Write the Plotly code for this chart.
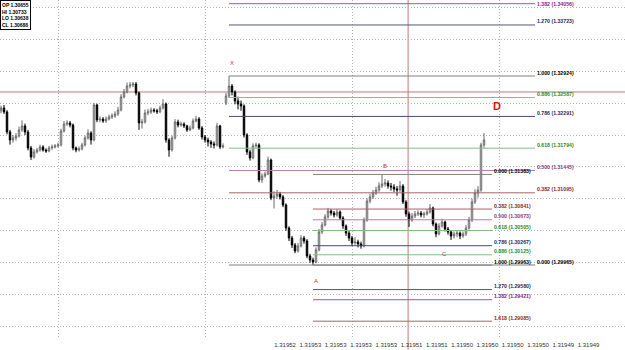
import plotly.graph_objects as go

# ---------------- data ----------------
opens = [1.32380,1.32424,1.32361,1.32048,1.31923,1.31954,1.31985,1.32079,1.32142,1.32048,
 1.31797,1.31656,1.31735,1.31766,1.31813,1.31766,1.31750,1.31797,1.31813,1.31829,
 1.31844,1.32063,1.32173,1.32189,1.32157,1.31797,1.31766,1.31782,1.31844,1.31954,
 1.32032,1.31923,1.32471,1.32236,1.32250,1.32220,1.32251,1.32283,1.32298,1.32330,
 1.32392,1.32596,1.32674,1.32768,1.32784,1.32799,1.32659,1.32189,1.32204,1.32345,
 1.32361,1.32392,1.32380,1.32365,1.32424,1.32486,1.31923,1.31766,1.31954,1.32204,
 1.32157,1.32173,1.32142,1.32079,1.32110,1.32220,1.32251,1.32110,1.31970,1.31923,
 1.31891,1.31860,1.31844,1.32142,1.31813,1.32500,1.32612,1.32768,1.32674,1.32533,
 1.32486,1.32455,1.32001,1.31735,1.31641,1.31829,1.31844,1.31296,1.31359,1.31390,
 1.31609,1.31014,1.31046,1.31077,1.31030,1.30905,1.30544,1.30388,1.30278,1.30184,
 1.30263,1.30388,1.30341,1.30106,1.30043,1.30012,1.30200,1.30482,1.30591,1.30717,
 1.30811,1.30779,1.30748,1.30795,1.30701,1.30576,1.30466,1.30388,1.30310,1.30325,
 1.30294,1.30263,1.30670,1.30967,1.31030,1.31093,1.31140,1.31202,1.31234,1.31249,
 1.31202,1.31187,1.31155,1.31140,1.31202,1.30952,1.30764,1.30670,1.30732,1.30764,
 1.30779,1.30748,1.30764,1.30795,1.30858,1.30607,1.30451,1.30576,1.30638,1.30529,
 1.30482,1.30419,1.30451,1.30466,1.30419,1.30451,1.30544,1.30670,1.30952,1.31093,
 1.31140,1.31844]

highs = [1.32460,1.32470,1.32390,1.32080,1.32000,1.32030,1.32130,1.32230,1.32180,1.32080,
 1.31830,1.31780,1.31800,1.31850,1.31840,1.31790,1.31830,1.31850,1.31860,1.31880,
 1.32100,1.32220,1.32230,1.32220,1.32180,1.31820,1.31820,1.31880,1.31990,1.32090,
 1.32060,1.32500,1.32490,1.32290,1.32280,1.32290,1.32320,1.32340,1.32370,1.32440,
 1.32640,1.32720,1.32820,1.32830,1.32830,1.32830,1.32680,1.32250,1.32400,1.32410,
 1.32430,1.32420,1.32410,1.32460,1.32560,1.32510,1.31950,1.31990,1.32250,1.32240,
 1.32210,1.32200,1.32160,1.32150,1.32260,1.32300,1.32280,1.32140,1.32000,1.31960,
 1.31920,1.31900,1.32190,1.32160,1.31870,1.32660,1.32924,1.32800,1.32700,1.32600,
 1.32540,1.32480,1.32030,1.31770,1.31870,1.31880,1.31870,1.31400,1.31430,1.31660,
 1.31630,1.31120,1.31140,1.31110,1.31060,1.30930,1.30570,1.30420,1.30310,1.30310,
 1.30430,1.30420,1.30370,1.30140,1.30080,1.30240,1.30530,1.30640,1.30760,1.30860,
 1.30840,1.30810,1.30840,1.30820,1.30730,1.30600,1.30500,1.30420,1.30400,1.30360,
 1.30330,1.30710,1.31010,1.31080,1.31140,1.31190,1.31260,1.31383,1.31310,1.31290,
 1.31250,1.31230,1.31200,1.31280,1.31230,1.30980,1.30800,1.30780,1.30810,1.30820,
 1.30810,1.30800,1.30840,1.30920,1.30880,1.30630,1.30620,1.30690,1.30660,1.30560,
 1.30510,1.30490,1.30500,1.30490,1.30490,1.30590,1.30720,1.31000,1.31150,1.31200,
 1.31880,1.32032]

lows = [1.32340,1.32330,1.32010,1.31850,1.31880,1.31910,1.31960,1.32050,1.32000,1.31760,
 1.31610,1.31630,1.31710,1.31740,1.31740,1.31720,1.31730,1.31770,1.31790,1.31800,
 1.31820,1.32040,1.32140,1.32120,1.31760,1.31730,1.31740,1.31760,1.31820,1.31930,
 1.31850,1.31900,1.32200,1.32200,1.32190,1.32190,1.32230,1.32250,1.32270,1.32300,
 1.32370,1.32570,1.32650,1.32730,1.32750,1.32620,1.32080,1.32100,1.32180,1.32310,
 1.32330,1.32350,1.32330,1.32340,1.32400,1.31880,1.31660,1.31740,1.31930,1.32120,
 1.32130,1.32110,1.32050,1.32060,1.32090,1.32200,1.32080,1.31930,1.31880,1.31820,
 1.31800,1.31790,1.31820,1.31780,1.31790,1.32470,1.32580,1.32620,1.32480,1.32400,
 1.32380,1.31960,1.31690,1.31600,1.31620,1.31800,1.31260,1.31250,1.31330,1.31370,
 1.30980,1.30850,1.31000,1.30990,1.30870,1.30500,1.30340,1.30230,1.30150,1.30160,
 1.30240,1.30300,1.30070,1.30000,1.29965,1.29990,1.30180,1.30450,1.30570,1.30690,
 1.30740,1.30710,1.30720,1.30670,1.30530,1.30420,1.30340,1.30260,1.30280,1.30240,
 1.30220,1.30240,1.30640,1.30930,1.31000,1.31060,1.31110,1.31170,1.31190,1.31160,
 1.31130,1.31110,1.31050,1.31110,1.30920,1.30720,1.30560,1.30640,1.30700,1.30730,
 1.30710,1.30700,1.30740,1.30770,1.30570,1.30400,1.30430,1.30550,1.30490,1.30440,
 1.30357,1.30380,1.30400,1.30370,1.30390,1.30420,1.30520,1.30640,1.30920,1.31020,
 1.31110,1.31800]

closes = [1.32424,1.32361,1.32048,1.31923,1.31954,1.31985,1.32079,1.32142,1.32048,1.31797,
 1.31656,1.31735,1.31766,1.31813,1.31766,1.31750,1.31797,1.31813,1.31829,1.31844,
 1.32063,1.32173,1.32189,1.32157,1.31797,1.31766,1.31782,1.31844,1.31954,1.32032,
 1.31923,1.32471,1.32236,1.32250,1.32220,1.32251,1.32283,1.32298,1.32330,1.32392,
 1.32596,1.32674,1.32768,1.32784,1.32799,1.32659,1.32189,1.32204,1.32345,1.32361,
 1.32392,1.32380,1.32365,1.32424,1.32486,1.31923,1.31766,1.31954,1.32204,1.32157,
 1.32173,1.32142,1.32079,1.32110,1.32220,1.32251,1.32110,1.31970,1.31923,1.31891,
 1.31860,1.31844,1.32142,1.31813,1.31829,1.32612,1.32768,1.32674,1.32533,1.32486,
 1.32455,1.32001,1.31735,1.31641,1.31829,1.31844,1.31296,1.31359,1.31390,1.31609,
 1.31014,1.31046,1.31077,1.31030,1.30905,1.30544,1.30388,1.30278,1.30184,1.30263,
 1.30388,1.30341,1.30106,1.30043,1.30012,1.30200,1.30482,1.30591,1.30717,1.30811,
 1.30779,1.30748,1.30795,1.30701,1.30576,1.30466,1.30388,1.30310,1.30325,1.30294,
 1.30263,1.30670,1.30967,1.31030,1.31093,1.31140,1.31202,1.31234,1.31249,1.31202,
 1.31187,1.31155,1.31140,1.31202,1.30952,1.30764,1.30670,1.30732,1.30764,1.30779,
 1.30748,1.30764,1.30795,1.30858,1.30607,1.30451,1.30576,1.30638,1.30529,1.30482,
 1.30419,1.30451,1.30466,1.30419,1.30451,1.30544,1.30670,1.30952,1.31093,1.31140,
 1.31844,1.31923]

bars = list(range(len(closes)))

# Fibonacci set 1 (X -> A)
xa_ratios = ["1.382", "1.270", "1.000", "0.886", "0.786", "0.618", "0.500", "0.382", "0.000"]
xa_prices = [1.34056, 1.33723, 1.32924, 1.32587, 1.32291, 1.31794, 1.31445, 1.31095, 1.29965]
# Fibonacci set 2 (B -> A)
ab_ratios = ["0.000", "0.382", "0.500", "0.618", "0.786", "0.886", "1.000", "1.270", "1.382", "1.618"]
ab_prices = [1.31383, 1.30841, 1.30673, 1.30505, 1.30267, 1.30125, 1.29963, 1.29580, 1.29421, 1.29085]

# swing point bars
x_bar, a_bar, b_bar, c_bar = 76, 104, 127, 150

x_tick_labels = ["1.31952", "1.31953", "1.31953", "1.31953", "1.31953", "1.31951", "1.31951",
                 "1.31950", "1.31950", "1.31950", "1.31950", "1.31949", "1.31949", "<b>1.31949</b>"]

hud_lines = ["OP 1.30655", "HI 1.30733", "LO 1.30638", "CL 1.30688"]

crosshair_price = 1.32674
crosshair_bar = 135.7

# ---------------- styling ----------------
line_col = {"1.382": "#9a5a9a", "1.270": "#55557a", "1.000": "#808080", "0.886": "#86bc86",
            "0.786": "#4a4a70", "0.618": "#86bc86", "0.500": "#b080b0", "0.382": "#a86464",
            "0.000": "#808080", "1.618": "#a86464"}
text_col = {"1.382": "#8b1a8b", "1.270": "#2a2a66", "1.000": "#000000", "0.886": "#2e8b2e",
            "0.786": "#2a2a66", "0.618": "#2e8b2e", "0.500": "#8b3a8b", "0.382": "#8b2b2b",
            "0.000": "#000000", "1.618": "#8b2b2b"}

FONT = "Liberation Sans"
GRID = "#b4b4b4"
Y_RANGE = [1.28822, 1.34114]
xa_start, xa_end = x_bar, 178.0
ab_start, ab_end = a_bar, 163.7

fig = go.Figure()

fig.add_trace(go.Candlestick(
    x=bars, open=opens, high=highs, low=lows, close=closes,
    increasing=dict(line=dict(color="#6a6a6a", width=1), fillcolor="#ffffff"),
    decreasing=dict(line=dict(color="#000000", width=1), fillcolor="#000000"),
    whiskerwidth=0, hoverinfo="skip", xaxis="x", yaxis="y"))

annotations = []
for ratios, prices, x0, x1 in [(xa_ratios, xa_prices, xa_start, xa_end),
                               (ab_ratios, ab_prices, ab_start, ab_end)]:
    for r, p in zip(ratios, prices):
        fig.add_trace(go.Scatter(x=[x0, x1], y=[p, p], mode="lines",
                                 line=dict(color=line_col[r], width=1),
                                 hoverinfo="skip", xaxis="x", yaxis="y"))
        # keep the label inside the picture when its level sits at the very top
        near_top = (Y_RANGE[1] - p) < 0.0012
        annotations.append(dict(x=x1, y=p, xref="x", yref="y", text="<b>%s (%.5f)</b>" % (r, p),
                                showarrow=False, xanchor="left", yanchor="middle", xshift=1,
                                yshift=0 if near_top else 3.5, borderpad=0,
                                font=dict(family=FONT, size=5.2, color=text_col[r])))

# invisible trace to carry the grid axis
fig.add_trace(go.Scatter(x=[0], y=[crosshair_price], mode="markers", marker=dict(opacity=0),
                         hoverinfo="skip", xaxis="x2", yaxis="y"))

# swing letters
red = "#cc3333"
letters = [
    dict(x=x_bar, y=highs[x_bar], text="X", xshift=3, yshift=13),
    dict(x=a_bar, y=lows[a_bar], text="A", xshift=3, yshift=-16),
    dict(x=b_bar, y=highs[b_bar], text="B", xshift=3, yshift=8),
    dict(x=c_bar, y=lows[c_bar], text="C", xshift=-7, yshift=-14),
]
for a in letters:
    a.update(xref="x", yref="y", showarrow=False, font=dict(family=FONT, size=6, color=red))
annotations += letters
annotations.append(dict(x=165.3, y=xa_prices[4], xref="x", yref="y", text="<b>D</b>", showarrow=False,
                        yshift=10, font=dict(family=FONT, size=11, color="#dd1111")))

annotations.append(dict(x=0, y=1, xref="paper", yref="paper", xanchor="left", yanchor="top",
                        text="<b>" + "<br>".join(hud_lines) + "</b>", showarrow=False, align="left",
                        bgcolor="#ffffff", bordercolor="#000000", borderwidth=1, borderpad=1,
                        font=dict(family=FONT, size=5, color="#000000")))

tick_start, tick_step = 94.7, 8.43
tickvals = [tick_start + k * tick_step for k in range(len(x_tick_labels))]

xrange = [-1 / 3, 624 / 3]
fig.update_layout(
    width=625, height=350, margin=dict(l=0, r=0, t=0, b=12),
    paper_bgcolor="#ffffff", plot_bgcolor="#ffffff", showlegend=False,
    xaxis=dict(range=xrange, showgrid=False, zeroline=False, showline=False, ticks="",
               tickvals=tickvals, ticktext=x_tick_labels, ticklabelstandoff=2,
               tickfont=dict(family=FONT, size=6, color="#333333"),
               rangeslider=dict(visible=False), fixedrange=True),
    xaxis2=dict(range=xrange, overlaying="x", side="top", showticklabels=False, ticks="",
                tick0=19, dtick=49, showgrid=True, griddash="1px,2px", gridcolor=GRID,
                gridwidth=1, zeroline=False, showline=False),
    yaxis=dict(range=Y_RANGE, tick0=1.29, dtick=0.005, showgrid=True, griddash="1px,2px",
               gridcolor=GRID, gridwidth=1, showticklabels=False, ticks="", zeroline=False,
               showline=False),
    annotations=annotations,
    shapes=[
        dict(type="line", xref="paper", yref="y", x0=0, x1=1, y0=crosshair_price, y1=crosshair_price,
             line=dict(color="#c07a7a", width=1), layer="below"),
        dict(type="line", xref="x", yref="paper", x0=crosshair_bar, x1=crosshair_bar, y0=-0.035, y1=1,
             line=dict(color="#c07a7a", width=1), layer="below"),
    ],
)

fig.write_html("out.html")
